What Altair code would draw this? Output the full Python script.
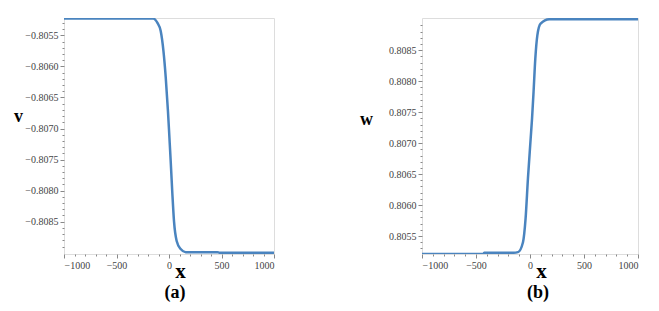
import altair as alt
import pandas as pd

# Panel (a): v(x)
xa = [-1000, -400, -150, -110, -79, -53, -31, -10, 0, 7, 16, 32, 48, 73, 111, 159, 460, 480, 1000]
va = [-0.80523, -0.80523, -0.80523, -0.80530, -0.80543, -0.80575, -0.80618, -0.80672, -0.80702,
      -0.80724, -0.80752, -0.80805, -0.80850, -0.80881, -0.80894, -0.80899, -0.80899, -0.80900, -0.80900]

# Panel (b): w(x)
xb = [-1000, -430, -425, -157, -111, -65, -41, -19, 6, 19, 33, 49, 68, 98, 181, 1000]
wb = [0.80521, 0.80521, 0.80523, 0.80523, 0.80524, 0.80540, 0.80578, 0.80643, 0.80707,
      0.80740, 0.80783, 0.80836, 0.80874, 0.80893, 0.80900, 0.80900]

x_ticks = list(range(-1000, 1001, 100))
ya_ticks = [round(-0.8089 + 0.0001 * i, 4) for i in range(0, 37)]
yb_ticks = [round(0.8053 + 0.0001 * i, 4) for i in range(0, 37)]

SERIF = "Liberation Serif"
LINE = "#4a84bf"

da = pd.DataFrame({"x": xa, "v": va})
db = pd.DataFrame({"x": xb, "w": wb})

def xaxis(tx):
    return alt.Axis(
        values=x_ticks,
        labelExpr="datum.value % 500 == 0 ? format(datum.value, 'd') : ''",
        tickSize={"condition": {"test": "datum.value % 500 == 0", "value": 4}, "value": 2},
        grid=False, domain=False, tickColor="#888", labelColor="#444",
        labelFont=SERIF, labelFontSize=10, labelPadding=2,
        title="x", titleFont=SERIF, titleFontSize=21, titleFontWeight="bold",
        titleColor="black", titleX=tx, titleY=17, titleAlign="center", titleBaseline="middle",
    )

def yaxis(title, vals, tx, ty):
    return alt.Axis(
        values=vals,
        labelExpr="abs(round(datum.value*10000)) % 5 == 0 ? format(datum.value, '.4f') : ''",
        tickSize={"condition": {"test": "abs(round(datum.value*10000)) % 5 == 0", "value": 4}, "value": 2},
        grid=False, domain=False, tickColor="#888", labelColor="#444",
        labelFont=SERIF, labelFontSize=10, labelPadding=2,
        title=title, titleFont=SERIF, titleFontSize=18, titleFontWeight="bold",
        titleColor="black", titleAngle=0, titleX=tx, titleY=ty,
        titleAlign="center", titleBaseline="middle",
    )

ca = alt.Chart(da).mark_line(color=LINE, strokeWidth=2.5, interpolate="monotone", clip=True).encode(
    x=alt.X("x:Q", scale=alt.Scale(domain=[-1000, 1000], nice=False, zero=False), axis=xaxis(116)),
    y=alt.Y("v:Q", scale=alt.Scale(domain=[-0.80902, -0.80522], nice=False, zero=False),
            axis=yaxis("v", ya_ticks, -46, 98)),
).properties(
    width=210, height=236,
    title=alt.TitleParams("(a)", orient="bottom", font=SERIF, fontSize=18, fontWeight="bold",
                          color="black", frame="group", anchor="middle", dx=6, offset=3),
)

cb = alt.Chart(db).mark_line(color=LINE, strokeWidth=2.5, interpolate="monotone", clip=True).encode(
    x=alt.X("x:Q", scale=alt.Scale(domain=[-1000, 1000], nice=False, zero=False), axis=xaxis(119)),
    y=alt.Y("w:Q", scale=alt.Scale(domain=[0.80521, 0.80902], nice=False, zero=False),
            axis=yaxis("w", yb_ticks, -56, 101)),
).properties(
    width=216, height=236,
    title=alt.TitleParams("(b)", orient="bottom", font=SERIF, fontSize=18, fontWeight="bold",
                          color="black", frame="group", anchor="middle", dx=8, offset=3),
)

chart = alt.hconcat(ca, cb, spacing=84).properties(
    padding={"left": 5, "top": 9, "right": 5, "bottom": 5}
).configure_view(stroke="#999", strokeWidth=1.2).configure_axis(
    labelFont=SERIF
).configure(background="white")

chart.save("out.html", embed_options={"renderer": "svg", "actions": False})
